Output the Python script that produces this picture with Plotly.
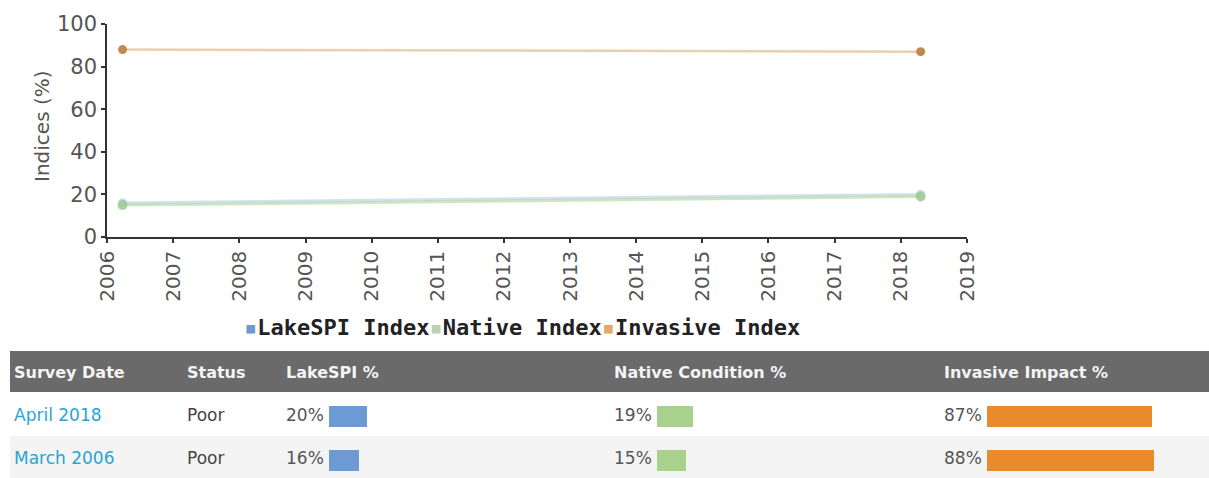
import plotly.graph_objects as go

# ---------------- data ----------------
survey_dates_iso = ["2006-03-28", "2018-04-20"]
lakespi_index = [16, 20]
native_index = [15, 19]
invasive_index = [88, 87]

x_tick_years = [str(y) for y in range(2006, 2020)]
y_ticks = [0, 20, 40, 60, 80, 100]

table_dates = ["April 2018", "March 2006"]
table_status = ["Poor", "Poor"]
table_lakespi = [20, 16]
table_native = [19, 15]
table_invasive = [87, 88]
header_labels = ["Survey Date", "Status", "LakeSPI %", "Native Condition %", "Invasive Impact %"]

# ---------------- styles ----------------
W, H = 1209, 478
BLUE = "#6b9bd2"
GREEN = "#a9d18e"
ORANGE = "#e98b2a"
AX = "#333333"
TXT = "#555555"

def px_x(p):
    return p / W

def px_y(p):
    return 1 - p / H

fig = go.Figure()

# main chart lines
fig.add_trace(go.Scatter(
    x=survey_dates_iso, y=lakespi_index, mode="lines+markers", name="LakeSPI Index",
    line=dict(color="rgba(107,155,210,0.3)", width=3),
    marker=dict(color="rgba(107,155,210,0.4)", size=9), showlegend=False))
fig.add_trace(go.Scatter(
    x=survey_dates_iso, y=native_index, mode="lines+markers", name="Native Index",
    line=dict(color="rgba(169,209,142,0.55)", width=3),
    marker=dict(color="rgba(160,205,150,0.9)", size=10), showlegend=False))
fig.add_trace(go.Scatter(
    x=survey_dates_iso, y=invasive_index, mode="lines+markers", name="Invasive Index",
    line=dict(color="rgba(225,175,120,0.6)", width=2.5),
    marker=dict(color="#c08a4e", size=9), showlegend=False))

# ---------------- table ----------------
row_cats = ["March 2006", "April 2018"]

bar_cols = [
    ("x2", table_lakespi, BLUE, 329),
    ("x3", table_native, GREEN, 657),
    ("x4", table_invasive, ORANGE, 987),
]
for xa, vals, col, start in bar_cols:
    fig.add_trace(go.Bar(
        x=vals, y=table_dates, orientation="h", xaxis=xa, yaxis="y2",
        marker=dict(color=col, line=dict(width=0)), width=0.48,
        showlegend=False, hoverinfo="skip"))

layout_axes = {}
for i, (xa, vals, col, start) in enumerate(bar_cols):
    key = "xaxis" + xa[1:]
    layout_axes[key] = dict(domain=[px_x(start), px_x(start + 190)], range=[0, 100],
                            visible=False, fixedrange=True, anchor="y2")

fig.update_layout(**layout_axes)

fig.update_layout(
    yaxis2=dict(domain=[0, px_y(394.75)], range=[-0.414, 1.5], type="category",
                categoryorder="array", categoryarray=row_cats, visible=False,
                anchor="x2"),
)

shapes = [
    # header band
    dict(type="rect", xref="paper", yref="paper", x0=px_x(10), x1=1, y0=px_y(392), y1=px_y(351),
         fillcolor="#6a6a6a", line=dict(width=0), layer="below"),
    # second row background
    dict(type="rect", xref="paper", yref="paper", x0=px_x(10), x1=1, y0=0, y1=px_y(436),
         fillcolor="#f4f4f4", line=dict(width=0), layer="below"),
]

annotations = []
header_x = [12, 185, 284, 612, 942]
for lab, hx in zip(header_labels, header_x):
    annotations.append(dict(text=f"<b>{lab}</b>", xref="paper", yref="paper", x=px_x(hx), y=px_y(372),
                            xanchor="left", yanchor="middle", showarrow=False,
                            font=dict(family="DejaVu Sans", size=16, color="#f4f4f4")))

for d, s, l, n, inv in zip(table_dates, table_status, table_lakespi, table_native, table_invasive):
    common = dict(xref="paper", yref="y2", y=d, yshift=2, xanchor="left", yanchor="middle", showarrow=False)
    annotations.append(dict(text=d, x=px_x(12), font=dict(family="DejaVu Sans", size=17, color="#2aa3d6"), **common))
    annotations.append(dict(text=s, x=px_x(185), font=dict(family="DejaVu Sans", size=17, color="#444444"), **common))
    annotations.append(dict(text=f"{l}%", x=px_x(284), font=dict(family="DejaVu Sans", size=17, color=TXT), **common))
    annotations.append(dict(text=f"{n}%", x=px_x(612), font=dict(family="DejaVu Sans", size=17, color=TXT), **common))
    annotations.append(dict(text=f"{inv}%", x=px_x(942), font=dict(family="DejaVu Sans", size=17, color=TXT), **common))

# legend as annotation
legend_items = [("LakeSPI Index", BLUE), ("Native Index", "#b9d3b0"), ("Invasive Index", "#e4a867")]
legend_text = "".join(
    f'<span style="color:{c}">▪</span>{name}' for name, c in legend_items)
annotations.append(dict(text=f"<b>{legend_text}</b>", xref="paper", yref="paper", x=px_x(522), y=px_y(327),
                        xanchor="center", yanchor="middle", showarrow=False,
                        font=dict(family="DejaVu Sans Mono", size=22, color="#222222")))

# y axis title
annotations.append(dict(text="Indices (%)", xref="paper", yref="paper", x=px_x(42), y=px_y(126),
                        xanchor="center", yanchor="middle", textangle=-90, showarrow=False,
                        font=dict(family="DejaVu Sans", size=20, color=TXT)))

fig.update_layout(
    width=W, height=H,
    margin=dict(l=0, r=0, t=0, b=0, pad=0, autoexpand=False),
    paper_bgcolor="white", plot_bgcolor="rgba(0,0,0,0)",
    xaxis=dict(domain=[px_x(107), px_x(967)], type="date",
               range=["2006-01-01", "2019-01-01"],
               tickvals=[f"{y}-01-01" for y in x_tick_years], ticktext=x_tick_years,
               tickangle=-90, showgrid=False, zeroline=False,
               showline=True, linecolor=AX, linewidth=1.5,
               ticks="outside", ticklen=4, tickcolor=AX, tickwidth=1.5,
               tickfont=dict(family="DejaVu Sans", size=20, color=TXT), anchor="y",
               automargin=False),
    yaxis=dict(domain=[px_y(237), px_y(24)], range=[0, 100],
               tickvals=y_ticks, showgrid=False, zeroline=False,
               showline=True, linecolor=AX, linewidth=1.5,
               ticks="outside", ticklen=4, tickcolor=AX, tickwidth=1.5,
               tickfont=dict(family="DejaVu Sans", size=21, color=TXT), anchor="x",
               automargin=False),
    shapes=shapes,
    annotations=annotations,
    bargap=0,
)

fig.write_html("out.html", post_script="document.body.style.margin='0';document.body.style.overflow='hidden';")
